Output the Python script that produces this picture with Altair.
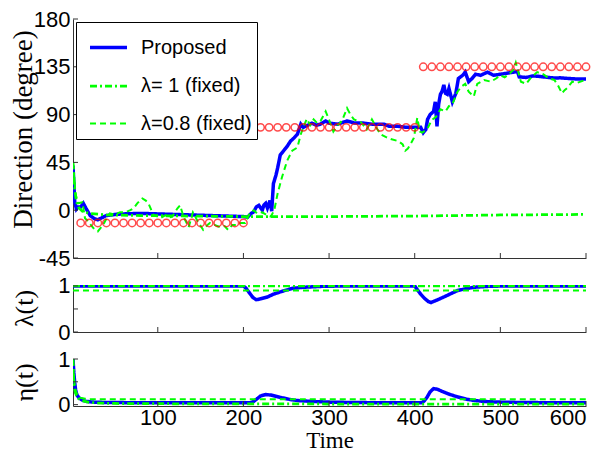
import altair as alt
import pandas as pd

SERIES = ["Proposed", "λ= 1 (fixed)", "λ=0.8 (fixed)"]
COLORS = ["#0000ff", "#00ff00", "#00ff00"]
DASHES = [[1, 0], [7, 3, 2, 3], [6, 4]]
WIDTHS = [3.5, 2, 2]

# ---- Direction panel (time, degree) ----
prop_dir = [(1, 42), (3, 8), (5, 1), (7, 3), (10, 3), (13, 6.5), (16, 2), (21, -5), (26, -8), (30, -9),
            (35, -7), (40, -5), (50, -4), (60, -3.5), (80, -3), (100, -3.5), (120, -4), (140, -4.5),
            (160, -5), (180, -5.5), (200, -6), (205, -6.5), (209, -3), (212, -1.5), (215, 3), (218, 4.6),
            (222, 0), (224, 5), (226, 6.5), (228, 2), (231, 9), (233, -1), (235, 25), (238, 33), (240, 40),
            (243, 52), (247, 56), (251, 60), (255, 65), (259, 68), (263, 71.5), (267, 81), (270, 78),
            (275, 80), (280, 82), (285, 80), (290, 81), (296, 84), (300, 82), (310, 81), (321, 84), (330, 82),
            (340, 82), (350, 81), (364, 81), (370, 79), (380, 79), (390, 78), (400, 78), (407, 78), (410, 73),
            (413, 76), (415, 85.5), (418, 90), (422, 93), (424, 102), (426, 79), (428, 100), (430, 109),
            (432, 112), (434, 118), (436, 110), (438, 109), (440, 114.6), (444, 102), (448, 110), (451, 124),
            (456, 127), (459, 130), (463, 121), (467, 124), (471, 128), (477, 127), (485, 130), (492, 127),
            (500, 128), (508, 129), (516, 130), (520, 130.5), (522, 125.5), (530, 125), (539, 126.5),
            (550, 125.5), (562, 124.5), (570, 124.6), (580, 124), (590, 123.5), (600, 123.5)]
fix1_dir = [(1, 45), (3, 20), (5, 8), (8, 2), (12, -1), (20, -3), (40, -4.5), (80, -5), (140, -5.5),
            (200, -6), (300, -6), (400, -5.5), (500, -4.5), (600, -4)]
fix08_dir = [(1, 45), (4, 15), (7, 6.5), (12, 7.5), (15, -7.5), (18, -10), (22, -14), (26, -18), (30, -20),
             (36, -14), (40, -8), (44, -3), (50, -4), (56, -2), (62, -2), (68, 0), (72, 2), (76, 6.5), (82, 11),
             (86, 9), (89, 6.5), (95, -4.7), (100, -6), (103, -7.5), (109, -4.7), (113, -7), (117, -6),
             (123, 1.8), (126, 4.6), (130, -6), (136, -16), (141, -2), (147, -11), (153, -18.5), (158, -14),
             (161, -12), (167, -14), (173, -16), (178, -15), (182, -18.5), (187, -14), (192, -14), (197, -12),
             (202, -12), (208, -2), (212, 0), (216, -3), (222, -2), (228, -5), (232, -6), (236, 0), (240, 16),
             (245, 31), (251, 46.5), (257, 56), (263, 59), (267, 71.5), (270, 78), (274, 86), (278, 80),
             (282, 85.5), (286, 82), (290, 84), (296, 93), (300, 85), (305, 74), (310, 80), (315, 84), (321, 96),
             (325, 90), (329, 85.5), (337, 83), (344, 76), (350, 85.5), (355, 78), (360, 71.5), (366, 69),
             (372, 67), (381, 65), (386, 62), (389, 56), (392, 58), (395, 62), (399, 68), (403, 87), (406, 74),
             (409, 73), (415, 77), (420, 85), (425, 88), (430, 95), (436, 93), (440, 98), (444, 100),
             (450, 111.5), (454, 116), (459, 119), (463, 111.5), (469, 107), (473, 119), (481, 122.6),
             (489, 121), (495, 124), (500, 127), (505, 125), (510, 128), (515, 132), (518, 139), (521, 130),
             (524, 121), (530, 119), (536, 125), (543, 130), (550, 128), (557, 124), (563, 122.6), (567, 118),
             (572, 110), (575, 113), (578, 115), (584, 121), (590, 120), (597, 122), (600, 123)]
truth_t = [10, 20, 30, 40, 50, 60, 70, 80, 90, 100, 110, 120, 130, 140, 150, 160, 170, 180, 190, 200,
           210, 220, 230, 240, 250, 260, 270, 280, 290, 300, 310, 320, 330, 340, 350, 360, 370, 380, 390, 400,
           410, 420, 430, 440, 450, 460, 470, 480, 490, 500, 510, 520, 530, 540, 550, 560, 570, 580, 590, 600]
truth_v = [-12] * 20 + [78] * 20 + [135] * 20

# ---- lambda(t) panel ----
prop_lam = [(1, 1), (200, 1), (203, 0.95), (207, 0.85), (211, 0.75), (215, 0.7), (220, 0.72), (228, 0.76),
            (235, 0.82), (243, 0.87), (250, 0.91), (258, 0.95), (270, 0.97), (290, 0.99), (320, 1), (400, 1),
            (403, 0.92), (407, 0.82), (412, 0.72), (416, 0.66), (419, 0.64), (423, 0.67), (428, 0.71),
            (434, 0.76), (442, 0.83), (450, 0.9), (460, 0.94), (469, 0.97), (485, 0.99), (508, 1), (600, 1)]
fix1_lam = [(1, 1), (600, 1)]
fix08_lam = [(1, 0.9), (600, 0.9)]

# ---- eta(t) panel ----
prop_eta = [(1, 1), (2, 0.7), (3, 0.48), (4, 0.33), (5, 0.25), (6, 0.2), (8, 0.15), (10, 0.12), (13, 0.09),
            (17, 0.07), (25, 0.055), (33, 0.05), (50, 0.045), (100, 0.04), (200, 0.04), (208, 0.04),
            (212, 0.07), (216, 0.13), (220, 0.19), (226, 0.22), (232, 0.21), (243, 0.16), (255, 0.11),
            (263, 0.09), (275, 0.075), (286, 0.065), (300, 0.055), (330, 0.045), (400, 0.04), (408, 0.04),
            (411, 0.08), (414, 0.15), (418, 0.28), (422, 0.35), (426, 0.34), (432, 0.29), (440, 0.23),
            (450, 0.17), (460, 0.12), (470, 0.09), (485, 0.065), (500, 0.055), (530, 0.045), (600, 0.04)]
fix1_eta = [(1, 1), (2, 0.5), (3, 0.33), (4, 0.25), (5, 0.2), (7, 0.14), (10, 0.1), (15, 0.07), (20, 0.05),
            (30, 0.035), (50, 0.025), (100, 0.02), (200, 0.015), (600, 0.01)]
fix08_eta = [(1, 1), (2, 0.6), (3, 0.42), (4, 0.32), (5, 0.26), (7, 0.19), (10, 0.15), (15, 0.13),
             (20, 0.12), (600, 0.12)]

x_ticks = [100, 200, 300, 400, 500, 600]
dir_ticks = [-45, 0, 45, 90, 135, 180]
lam_ticks = [0, 0.5, 1]
eta_ticks = [0, 0.5, 1]

W = 513
AX = "#333333"
SANS = "Liberation Sans"
SERIF = "Liberation Serif"


def long_df(series_data):
    rows = []
    for name, pts in zip(SERIES, series_data):
        for t, v in pts:
            rows.append({"t": t, "v": v, "s": name})
    return pd.DataFrame(rows)


def panel(series_data, y_dom, y_ticks, H, ytitle, title_y, title_x, legend, bottom, title_size):
    df = long_df(series_data)
    if bottom:
        xaxis = alt.Axis(values=x_ticks, labelFont=SANS, labelFontSize=22, labelColor="black",
                         labelPadding=1, ticks=False, grid=False, domainColor=AX,
                         title="Time", titleFont=SERIF, titleFontSize=23, titleFontWeight="normal",
                         titleColor="black", titlePadding=1)
    else:
        xaxis = alt.Axis(labels=False, ticks=False, grid=False, domainColor=AX, title=None)
    yaxis = alt.Axis(values=y_ticks, labelExpr="'' + datum.value", labelFont=SANS, labelFontSize=22,
                     labelColor="black", labelPadding=3, ticks=False, grid=False, domainColor=AX,
                     title=ytitle, titleFont=SERIF, titleFontSize=title_size, titleFontWeight="normal",
                     titleColor="black", titleX=title_x, titleY=title_y, titleAlign="center",
                     titleBaseline="bottom", titleAngle=270)
    if legend:
        leg = alt.Legend(orient="none", legendX=3, legendY=3, title=None, fillColor="white",
                         strokeColor="black", padding=5, labelFont=SANS, labelFontSize=20,
                         labelColor="black", symbolType="stroke", symbolSize=1369, rowPadding=8,
                         labelOffset=12, symbolOffset=7, labelLimit=300)
    else:
        leg = None
    lines = alt.Chart(df).mark_line(clip=True).encode(
        x=alt.X("t:Q", scale=alt.Scale(domain=[1, 600], nice=False, zero=False), axis=xaxis),
        y=alt.Y("v:Q", scale=alt.Scale(domain=y_dom, nice=False, zero=False), axis=yaxis),
        color=alt.Color("s:N", scale=alt.Scale(domain=SERIES, range=COLORS), legend=leg),
        strokeDash=alt.StrokeDash("s:N", scale=alt.Scale(domain=SERIES, range=DASHES), legend=leg),
        strokeWidth=alt.StrokeWidth("s:N", scale=alt.Scale(domain=SERIES, range=WIDTHS), legend=leg),
        order=alt.Order("t:Q"),
    )
    xt = alt.Chart(pd.DataFrame({"t": x_ticks})).mark_rule(color=AX, strokeWidth=1).encode(
        x=alt.X("t:Q"), y=alt.value(H), y2=alt.value(H - 5))
    yt = alt.Chart(pd.DataFrame({"v": y_ticks})).mark_rule(color=AX, strokeWidth=1).encode(
        y=alt.Y("v:Q"), x=alt.value(0), x2=alt.value(5))
    return [lines, xt, yt], H


top_layers, H1 = panel([prop_dir, fix1_dir, fix08_dir], [-45, 180], dir_ticks, 239,
                       "Direction (degree)", 110, -36, True, False, 27)
circ = alt.Chart(pd.DataFrame({"t": truth_t, "v": truth_v})).mark_point(
    shape="circle", filled=False, color="#ff0000", size=55, strokeWidth=1.5).encode(
    x=alt.X("t:Q"), y=alt.Y("v:Q"))
top = alt.layer(*top_layers, circ).properties(width=W, height=H1)

mid_layers, H2 = panel([prop_lam, fix1_lam, fix08_lam], [0, 1.02], lam_ticks, 47,
                       "λ(t)", 23, -36, False, False, 26)
mid = alt.layer(*mid_layers).properties(width=W, height=H2)

bot_layers, H3 = panel([prop_eta, fix1_eta, fix08_eta], [-0.03, 1], eta_ticks, 47,
                       "η(t)", 23, -36, False, True, 26)
bot = alt.layer(*bot_layers).properties(width=W, height=H3)

chart = alt.vconcat(top, mid, bot, spacing=27, bounds="flush").resolve_scale(
    color="independent", strokeDash="independent", strokeWidth="independent"
).properties(padding={"left": 0, "top": 0, "right": 0, "bottom": 0}).configure_view(stroke=None)

chart.save("out.html", embed_options={"renderer": "svg", "actions": False})
